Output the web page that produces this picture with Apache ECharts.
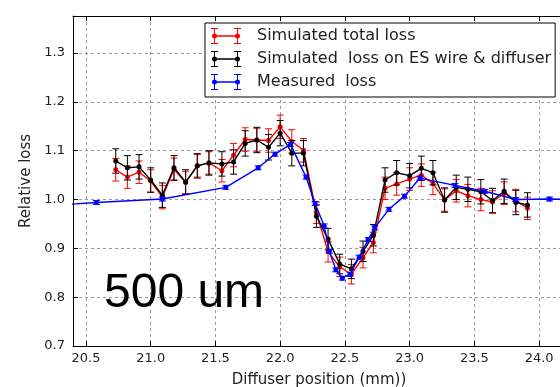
<!DOCTYPE html>
<html>
<head>
<meta charset="utf-8">
<script src="https://cdn.jsdelivr.net/npm/echarts@6/dist/echarts.min.js"></script>
<style>
  html, body { margin: 0; padding: 0; background: #fff; }
  #chart { width: 560px; height: 387px; }
</style>
</head>
<body>
<div id="chart"></div>
<script>
// Diffuser scan positions (mm) for the simulation points
const simX = [20.73, 20.82, 20.91, 21.00, 21.09, 21.18, 21.27, 21.36, 21.45, 21.55,
              21.64, 21.73, 21.82, 21.91, 22.00, 22.09, 22.18, 22.28, 22.37, 22.46,
              22.55, 22.64, 22.72, 22.81, 22.90, 23.00, 23.09, 23.18, 23.27, 23.36,
              23.45, 23.55, 23.64, 23.73, 23.82, 23.91];

// Simulated total loss and its uncertainty
const totalLoss = [1.061, 1.046, 1.056, 1.038, 1.005, 1.062, 1.035, 1.069, 1.075, 1.059,
                   1.091, 1.123, 1.122, 1.121, 1.149, 1.119, 1.101, 0.973, 0.893, 0.862,
                   0.847, 0.881, 0.912, 1.023, 1.032, 1.042, 1.050, 1.033, 0.999, 1.018,
                   1.008, 1.000, 0.995, 1.013, 0.998, 0.982];
const totalErr = [0.023, 0.023, 0.023, 0.023, 0.024, 0.023, 0.023, 0.023, 0.023, 0.023,
                  0.024, 0.024, 0.024, 0.024, 0.024, 0.024, 0.024, 0.022, 0.021, 0.020,
                  0.020, 0.021, 0.021, 0.023, 0.023, 0.023, 0.023, 0.023, 0.023, 0.023,
                  0.023, 0.023, 0.023, 0.023, 0.023, 0.023];

// Simulated loss on the ES wire and diffuser
const wireLoss = [1.079, 1.065, 1.067, 1.040, 1.009, 1.065, 1.036, 1.069, 1.075, 1.073,
                  1.077, 1.115, 1.122, 1.107, 1.136, 1.095, 1.095, 0.966, 0.919, 0.868,
                  0.858, 0.894, 0.927, 1.040, 1.055, 1.049, 1.064, 1.055, 0.999, 1.025,
                  1.021, 1.016, 0.998, 1.017, 0.994, 0.989];
const wireErr = [0.025, 0.025, 0.025, 0.025, 0.025, 0.025, 0.025, 0.025, 0.025, 0.025,
                 0.025, 0.026, 0.026, 0.026, 0.026, 0.026, 0.026, 0.023, 0.022, 0.020,
                 0.020, 0.021, 0.022, 0.025, 0.025, 0.025, 0.025, 0.025, 0.025, 0.025,
                 0.025, 0.025, 0.025, 0.025, 0.025, 0.025];

// Measured loss
const measX = [20.30, 20.58, 21.09, 21.58, 21.83, 21.96, 22.08, 22.20, 22.27, 22.34,
               22.38, 22.43, 22.48, 22.54, 22.61, 22.68, 22.73, 22.84, 22.96, 23.08,
               23.35, 23.58, 23.82, 24.08, 24.35];
const measLoss = [0.989, 0.994, 1.001, 1.025, 1.065, 1.093, 1.113, 1.046, 0.992, 0.946,
                  0.894, 0.856, 0.839, 0.847, 0.882, 0.918, 0.942, 0.980, 1.007, 1.044,
                  1.029, 1.017, 1.000, 1.001, 1.000];
const measErr = [0.004, 0.004, 0.004, 0.004, 0.004, 0.004, 0.004, 0.004, 0.004, 0.004,
                 0.004, 0.004, 0.004, 0.004, 0.004, 0.004, 0.004, 0.004, 0.004, 0.004,
                 0.004, 0.004, 0.004, 0.004, 0.004];

const seriesNames = ['Simulated total loss', 'Simulated  loss on ES wire & diffuser', 'Measured  loss'];
const seriesColors = ['#ff0000', '#000000', '#0000ff'];

const xRange = [20.4, 24.2];
const yRange = [0.7, 1.376];

const FONT = 'DejaVu Sans';

// legend glyph: two error bars with markers joined by a line
const ERR_ICON = 'path://' +
  'M0,0H7V1H0Z M0,15H7V16H0Z M3,0H4V16H3Z ' +
  'M23,0H30V1H23Z M23,15H30V16H23Z M26,0H27V16H26Z ' +
  'M3.5,7.3H26.5V8.7H3.5Z ' +
  'M1,8A2.5,2.5 0 1 1 6,8A2.5,2.5 0 1 1 1,8Z ' +
  'M24,8A2.5,2.5 0 1 1 29,8A2.5,2.5 0 1 1 24,8Z';

function errorBars(name, xs, ys, errs, color, z) {
  return {
    type: 'custom',
    name: name + ' (err)',
    z: z,
    silent: true,
    clip: true,
    data: xs.map((x, i) => [x, ys[i] - errs[i], ys[i] + errs[i]]),
    encode: { x: 0, y: [1, 2] },
    renderItem(params, api) {
      const x = api.value(0);
      const lo = api.coord([x, api.value(1)]);
      const hi = api.coord([x, api.value(2)]);
      const hw = 3.5;
      const style = { stroke: color, lineWidth: 1, fill: null };
      return {
        type: 'group',
        children: [
          { type: 'line', shape: { x1: lo[0], y1: lo[1], x2: hi[0], y2: hi[1] }, style },
          { type: 'line', shape: { x1: lo[0] - hw, y1: lo[1], x2: lo[0] + hw, y2: lo[1] }, style },
          { type: 'line', shape: { x1: hi[0] - hw, y1: hi[1], x2: hi[0] + hw, y2: hi[1] }, style }
        ]
      };
    }
  };
}

function lineSeries(name, xs, ys, color, z) {
  return {
    type: 'line',
    name: name,
    z: z,
    data: xs.map((x, i) => [x, ys[i]]),
    symbol: 'circle',
    symbolSize: 5,
    showSymbol: true,
    clip: true,
    lineStyle: { color: color, width: 1.4 },
    itemStyle: { color: color, borderWidth: 0 },
    emphasis: { disabled: true }
  };
}

const gridLine = { show: true, lineStyle: { color: '#9a9a9a', width: 1, type: [3, 3] } };
const spine = { show: true, onZero: false, lineStyle: { color: '#000', width: 1 } };
const ticksIn = { show: true, inside: true, length: 5, lineStyle: { color: '#000', width: 1 } };

const chart = echarts.init(document.getElementById('chart'), null, { renderer: 'canvas' });

chart.setOption({
  animation: false,
  backgroundColor: '#fff',
  grid: { left: 73, right: -5, top: 16, bottom: 41, containLabel: false, outerBoundsMode: 'none' },
  xAxis: [
    {
      type: 'value', position: 'bottom', min: xRange[0], max: xRange[1], splitNumber: 8,
      axisLine: spine, axisTick: ticksIn, splitLine: gridLine,
      axisLabel: {
        color: '#222', fontFamily: FONT, fontSize: 13, margin: 6,
        showMinLabel: false, showMaxLabel: false,
        formatter: v => v.toFixed(1)
      },
      name: 'Diffuser position (mm))', nameLocation: 'middle', nameGap: 27,
      nameTextStyle: { color: '#222', fontFamily: FONT, fontSize: 15 }
    },
    {
      type: 'value', position: 'top', min: xRange[0], max: xRange[1], splitNumber: 8,
      axisLine: spine, axisTick: ticksIn, splitLine: { show: false },
      axisLabel: { show: false }
    }
  ],
  yAxis: [
    {
      type: 'value', position: 'left', min: yRange[0], max: yRange[1], interval: 0.1,
      axisLine: spine, axisTick: ticksIn, splitLine: gridLine,
      axisLabel: {
        color: '#222', fontFamily: FONT, fontSize: 13, margin: 8,
        showMaxLabel: false,
        formatter: v => v.toFixed(1)
      },
      name: 'Relative loss', nameLocation: 'middle', nameGap: 39, nameRotate: 90,
      nameTextStyle: { color: '#222', fontFamily: FONT, fontSize: 15 }
    }
  ],
  legend: {
    orient: 'vertical', left: 205, top: 23, align: 'left',
    data: seriesNames.map(n => ({ name: n, icon: ERR_ICON })),
    itemWidth: 30, itemHeight: 16, itemGap: 7,
    symbolKeepAspect: true,
    padding: [5, 4, 7, 6],
    backgroundColor: '#fff', borderColor: '#000', borderWidth: 1, borderRadius: 0,
    itemStyle: { borderWidth: 0 },
    textStyle: { color: '#222', fontFamily: FONT, fontSize: 16, padding: [0, 0, 0, 11] },
    selectedMode: false,
    z: 20
  },
  graphic: [
    {
      type: 'text', x: 104, y: 294, z: 30,
      style: {
        text: '500 um', fill: '#000',
        fontFamily: 'Liberation Sans', fontSize: 48,
        align: 'left', verticalAlign: 'middle'
      }
    }
  ],
  series: [
    errorBars(seriesNames[0], simX, totalLoss, totalErr, seriesColors[0], 2),
    lineSeries(seriesNames[0], simX, totalLoss, seriesColors[0], 3),
    errorBars(seriesNames[1], simX, wireLoss, wireErr, seriesColors[1], 4),
    lineSeries(seriesNames[1], simX, wireLoss, seriesColors[1], 5),
    errorBars(seriesNames[2], measX, measLoss, measErr, seriesColors[2], 6),
    lineSeries(seriesNames[2], measX, measLoss, seriesColors[2], 7)
  ]
});
</script>
</body>
</html>
